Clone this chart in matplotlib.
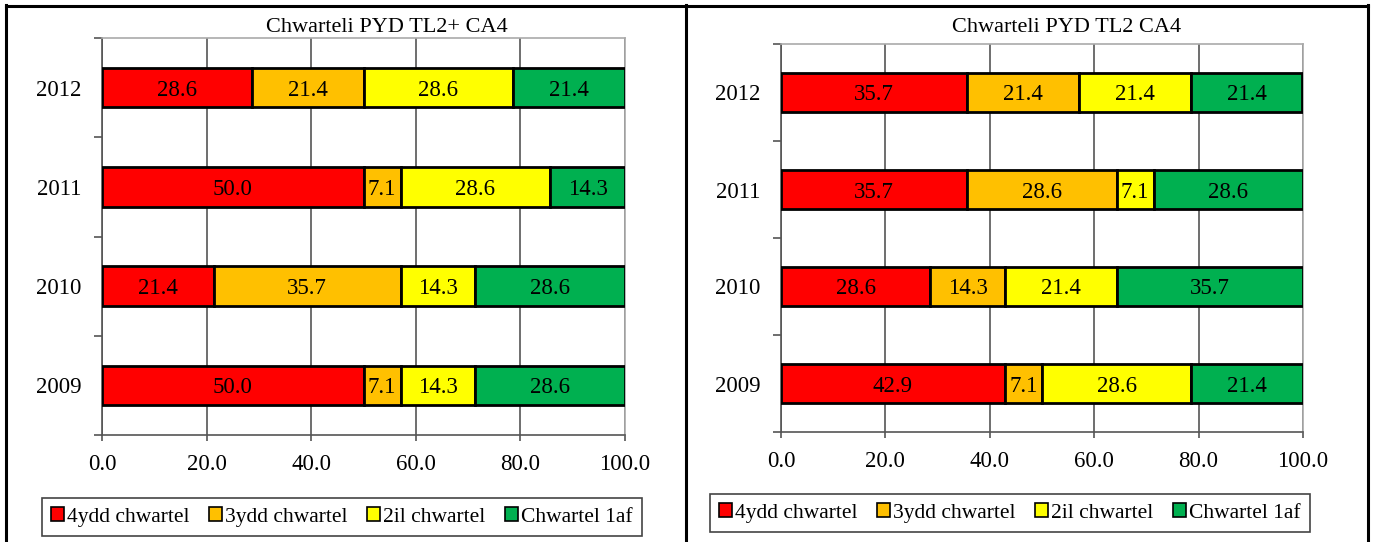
import numpy as np
import matplotlib.pyplot as plt
from matplotlib.patches import Patch
from matplotlib.lines import Line2D

plt.rcParams['font.family'] = ['Liberation Serif', 'DejaVu Serif']

years = ['2009', '2010', '2011', '2012']
quarters = ['4ydd chwartel', '3ydd chwartel', '2il chwartel', 'Chwartel 1af']
colors = ['#FF0000', '#FFC000', '#FFFF00', '#00B050']

# values per quarter, ordered 2009..2012
left_title = 'Chwarteli PYD TL2+ CA4'
left_q4 = [50.0, 21.4, 50.0, 28.6]
left_q3 = [7.1, 35.7, 7.1, 21.4]
left_q2 = [14.3, 14.3, 28.6, 28.6]
left_q1 = [28.6, 28.6, 14.3, 21.4]

right_title = 'Chwarteli PYD TL2 CA4'
right_q4 = [42.9, 28.6, 35.7, 35.7]
right_q3 = [7.1, 14.3, 28.6, 21.4]
right_q2 = [28.6, 21.4, 7.1, 21.4]
right_q1 = [21.4, 35.7, 28.6, 21.4]

W, H = 1373, 542
fig = plt.figure(figsize=(W / 100, H / 100), dpi=100)


def px_axes(x0, x1, ytop, ybot):
    return fig.add_axes([x0 / W, (H - ybot) / H, (x1 - x0) / W, (ybot - ytop) / H])


def draw_panel(ax, series, title, title_x, leg_cx, leg_cy):
    data = np.array(series)
    y = np.arange(len(years))
    left = np.zeros(len(years))
    for vals, c in zip(data, colors):
        ax.barh(y, vals, left=left, height=0.4, color=c, edgecolor='black',
                linewidth=2, zorder=3)
        for yi, (l, v) in enumerate(zip(left, vals)):
            ax.text(l + v / 2, yi, f'{v:.1f}', ha='center', va='center_baseline',
                    fontsize=16.5, zorder=4)
        left = left + vals

    ax.set_xlim(0, 100)
    ax.set_ylim(-0.5, 3.5)
    ax.set_xticks(np.arange(0, 101, 20))
    ax.set_xticklabels([f'{v:.1f}' for v in np.arange(0, 101, 20)], fontsize=16.5)
    ax.set_yticks(y)
    ax.set_yticklabels(years, fontsize=16.5)
    ax.set_yticks(np.arange(-0.5, 4, 1), minor=True)
    ax.tick_params(axis='y', which='major', length=0, pad=15)
    ax.tick_params(axis='y', which='minor', length=6, width=1.2, color='#555555')
    ax.tick_params(axis='x', length=4.5, width=1.2, color='#555555', pad=9)
    ax.xaxis.grid(True, color='#555555', linewidth=1.2, zorder=0)
    for s in ['left', 'bottom']:
        ax.spines[s].set_color('#555555')
        ax.spines[s].set_linewidth(1.2)
    for s in ['top', 'right']:
        ax.spines[s].set_color('#aaaaaa')
        ax.spines[s].set_linewidth(1.2)

    fig.text(title_x / W, 1 - 32 / H, title, ha='left', va='baseline', fontsize=16)

    handles = [Patch(facecolor=c, edgecolor='black', linewidth=1.2) for c in colors]
    leg = fig.legend(handles, quarters, loc='center', ncol=4,
                     bbox_to_anchor=(leg_cx / W, 1 - leg_cy / H),
                     fontsize=15.5, handlelength=0.6, handleheight=0.6,
                     handletextpad=0.15, columnspacing=0.9, borderpad=0.45,
                     fancybox=False, framealpha=1)
    leg.get_frame().set_edgecolor('#444444')
    leg.get_frame().set_linewidth(1.2)


ax1 = px_axes(102, 625, 38, 435)
draw_panel(ax1, [left_q4, left_q3, left_q2, left_q1], left_title, 266, 342, 517)

ax2 = px_axes(781, 1303, 44, 432)
draw_panel(ax2, [right_q4, right_q3, right_q2, right_q1], right_title, 952, 1010, 513)

# panel borders
for xs, ys in [([6, 6], [5, H]), ([686, 686], [5, H]), ([1368, 1368], [5, H]),
               ([6, 1368], [6, 6])]:
    fig.add_artist(Line2D([x / W for x in xs], [1 - v / H for v in ys],
                          color='black', linewidth=2.2, transform=fig.transFigure))

fig.savefig('out.png', dpi=100)
